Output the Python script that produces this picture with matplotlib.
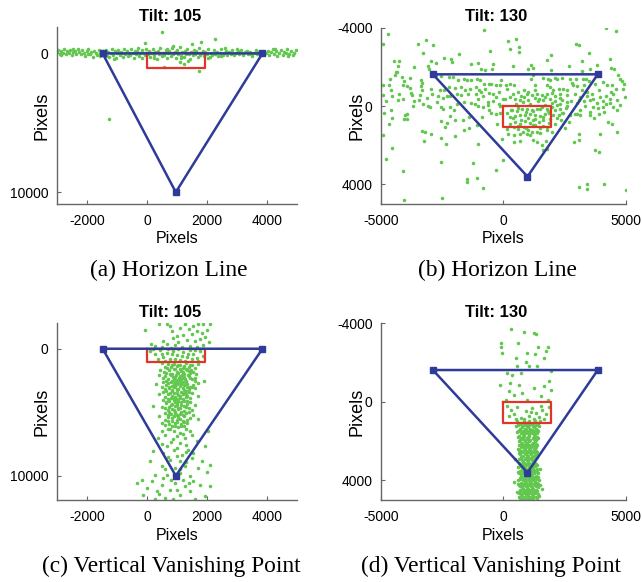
import matplotlib
matplotlib.use("Agg")
import matplotlib.pyplot as plt
import numpy as np

# ---- data (image pixels, y grows downward) ----
frame_w, frame_h = 1920, 1080

tri_105_x = [-1480, 3850, 960]
tri_105_y = [0, 0, 10000]
tri_130_x = [-2880, 3850, 980]
tri_130_y = [-1620, -1620, 3600]

# (a) horizon line, tilt 105
a_pts = [
    (-3010, -120), (-2950, -250), (-2900, 40), (-2850, -180), (-2800, -60), (-2760, -300), (-2700, 80),
    (-2650, -150), (-2600, -20), (-2560, -260), (-2500, 120), (-2450, -90), (-2400, -200), (-2350, 20),
    (-2300, -330), (-2250, -110), (-2200, 60), (-2150, -230), (-2100, -40), (-2050, 170), (-2000, -150),
    (-1950, -280), (-1900, 10), (-1850, -90), (-1800, 230), (-1750, -200), (-1700, -30), (-1650, 110),
    (-1600, -250), (-1550, -60), (-1500, 150), (-1450, -180),
    (-1400, 40), (-1380, -260), (-1330, 170), (-1300, -90), (-1250, 260), (-1200, -40), (-1180, -310),
    (-1120, 90), (-1080, -160), (-1030, 330), (-1000, -20), (-950, -220), (-900, 140), (-860, -100),
    (-800, 280), (-760, -330), (-720, 20), (-680, -170), (-640, 210), (-600, -60), (-550, 120),
    (-520, -280), (-480, -10), (-430, 350), (-400, -140), (-350, 60), (-310, -380), (-270, 190),
    (-230, -60), (-180, -230), (-150, 300), (-100, -20), (-60, 130), (-20, -300), (30, 40), (70, -150),
    (110, 250), (150, -40), (190, -350), (230, 150), (280, -90), (320, 380), (360, -200), (400, 20),
    (440, -420), (490, 220), (530, -60), (570, 120), (620, -260), (660, 300), (700, -10), (740, -150),
    (790, 200), (830, -380), (870, 60), (920, -110), (960, 330), (1000, -230), (1040, 30), (1090, -450),
    (1130, 180), (1170, -70), (1220, 260), (1260, -180), (1300, 80), (1350, -320), (1390, 10),
    (1430, 400), (1470, -120), (1520, 150), (1560, -260), (1600, 50), (1650, -80), (1690, 290),
    (1730, -400), (1780, 120), (1820, -30), (1860, -200), (1910, 200), (1950, -110), (2000, 40),
    (2050, -300), (2090, 250), (2140, -50), (2180, 110), (2230, -220), (2280, 20), (2330, -130),
    (2380, 170), (2430, -60), (2480, -280), (2530, 90), (2580, -20), (2630, -190), (2680, 140),
    (2730, -90), (2790, 40), (2840, -240), (2900, 110), (2960, -30), (3020, -150), (3080, 60),
    (3140, -260), (3200, 130), (3260, -70), (3320, -190), (3380, 30), (3440, -120), (3500, 200),
    (3560, -40), (3620, -230), (3680, 80), (3740, -110),
    (3960, -20), (4020, -200), (4080, 120), (4130, -80), (4190, -300), (4240, 40), (4300, -150),
    (4350, 180), (4410, -60), (4460, -250), (4520, 90), (4570, -120), (4630, -20), (4680, -310),
    (4740, 60), (4790, -180), (4850, 150), (4900, -60), (4950, -240),
    (490, -1560), (2270, -1070), (-70, -770), (1790, -820), (560, 960), (1240, 770), (1730, 1250),
    (-1260, 4730), (1500, -700), (1100, 600),
    (-2880, 100), (-2480, -320), (-1980, 60), (-1580, 200), (-820, -40), (-340, -200), (250, 320),
    (680, -320), (1150, 350), (1620, -180), (2020, 300), (2460, 200), (3000, -300), (3470, 60),
    (4280, -350), (4700, 200), (880, -520), (1380, 520), (2600, -420), (-1100, 380),
]

# (b) horizon line, tilt 130
b_pts = [
    (-4730, -3700), (-4920, -3170), (-800, -3900), (-3170, -3370), (-3470, -3190), (-2880, -3130),
    (-3270, -2730), (-1800, -2680), (-570, -2830), (-4460, -2280), (-4270, -2320), (-4300, -2050),
    (-3660, -2000), (-2940, -2320), (-2760, -2220), (-2420, -2450), (-2150, -2400), (-2120, -2230),
    (-1310, -2170), (-1060, -2200), (-930, -1910), (-760, -1860), (-450, -1910), (-420, -2170),
    (-4380, -1740), (-4330, -1740), (-4430, -1570), (-4140, -1490), (-3810, -1450), (-4050, -1280),
    (-4640, -1370), (-4690, -1090), (-4920, -1060), (-4110, -1060), (-3950, -1040), (-3350, -1320),
    (-3310, -1200), (-3370, -1040), (-3100, -2030), (-3050, -1890), (-2740, -1570), (-2530, -1520),
    (-2230, -1490), (-2060, -1490), (-1850, -1320), (-1610, -1370), (-1500, -1320), (-1310, -1330),
    (-1100, -1370), (-970, -1350), (-790, -1110), (-600, -1130), (-490, -1150), (-300, -1060),
    (-140, -1090), (-110, -1320), (-4580, -840), (-4900, -580), (-4560, -530), (-4260, -600),
    (-3780, -690), (-3740, -550), (-3410, -580), (-3320, -800), (-2940, -860), (-2900, -640),
    (-2590, -800), (-2410, -840), (-2230, -980), (-1990, -920), (-1740, -980), (-1550, -840),
    (-1360, -890), (-1130, -960), (-1010, -800), (-760, -890), (-600, -670), (-420, -640),
    (-290, -470), (-4790, -280), (-4100, -350), (-3670, -280), (-3440, -330), (-3140, -400),
    (-2670, -500), (-2460, -410), (-2290, -500), (-2190, -520), (-1880, -640), (-1720, -550),
    (-1440, -620), (-1140, -600), (-1020, -350), (-820, -500), (-650, -210), (-410, -280),
    (-180, -120), (-30, -380), (-3710, 10), (-3100, 10), (-3010, 30), (-2530, 40), (-2200, 60),
    (-1880, -90), (-1330, -180), (-1170, -110), (-1040, -10), (-830, 30), (-640, -40), (-140, -10),
    (-4860, 330), (-3950, 390), (-4030, 470), (-3930, 640), (-4570, 610), (-4070, 660), (-2460, 130),
    (-2180, 520), (-1990, 730), (-1670, 690), (-1400, 540), (-870, 560), (-490, 370), (-290, 400),
    (-150, 330), (-4690, 910), (-2530, 740), (-2310, 860), (-2400, 1050), (-1610, 1235),
    (-1420, 1120), (-1090, 980), (-270, 900), (-4920, 1460), (-3330, 1290), (-3200, 1350),
    (-2940, 1440), (-2540, 1640), (-3250, 1760), (-1960, 1540), (-2340, 1950), (-1040, 1950),
    (-80, 1690), (-4530, 2120), (-4790, 2680), (-2570, 2870), (-1250, 2920), (-300, 3240),
    (-30, 2770), (-4100, 3310), (-1480, 3700), (-1090, 3670), (-1470, 3900), (-820, 4160),
    (-4080, 4790), (-2520, 4700),
    (4180, -3980), (4600, -3850), (200, -3300), (500, -3440), (270, -2930), (650, -3000), (650, -2760),
    (2950, -3190), (3090, -3100), (1930, -2620), (3510, -2710), (1760, -2350), (3210, -2320),
    (4350, -2390), (380, -2050), (990, -1880), (1130, -2080), (1220, -1960), (2680, -2050),
    (1960, -1830), (3220, -1790), (3550, -1880), (3800, -2080), (4370, -1940), (4530, -1880),
    (4690, -1570), (4760, -1400), (4830, -1260), (4920, -1150), (4860, -890), (4980, -470),
    (1120, -1370), (1220, -1570), (1630, -1430), (1810, -1400), (1880, -1320), (2110, -1450),
    (2180, -1370), (2380, -1430), (2720, -1400), (2970, -1400), (3240, -1370), (3350, -1400),
    (3480, -1300), (110, -1060), (270, -1110), (440, -1090), (1290, -1060), (1770, -1090),
    (1900, -980), (2040, -800), (2250, -860), (2450, -890), (2820, -1060), (3010, -1010),
    (3200, -800), (3400, -720), (3740, -1150), (4080, -1230), (4220, -1060), (4450, -1060),
    (4600, -890), (4490, -640), (140, -890), (610, -720), (840, -800), (950, -640), (1160, -550),
    (1360, -640), (1570, -550), (1770, -600), (2110, -520), (2310, -640), (2590, -550), (2930, -640),
    (3130, -470), (3430, -520), (3670, -380), (3950, -470), (4190, -520), (4350, -380), (4630, -300),
    (4760, -40), (70, -380), (250, -470), (480, -380), (680, -300), (820, -470), (1020, -300),
    (1290, -410), (1470, -350), (1630, -300), (1900, -350), (2110, -240), (2380, -300), (2590, -210),
    (2750, -240), (3020, -180), (3270, -240), (3540, -300), (3810, -180), (4080, -240), (4330, -180),
    (4490, 40), (4630, 215), (4080, 40), (3840, 100), (3650, 40), (3330, -10), (3130, 215),
    (2910, 390), (2720, 470), (2560, 100), (2310, 130), (2180, -40), (1970, 40), (1770, 130),
    (1570, 40), (1360, 130), (1160, 215), (950, 130), (750, 160), (550, 270), (340, 215), (160, 330),
    (270, 560), (480, 500), (680, 440), (890, 470), (1090, 390), (1290, 440), (1500, 500),
    (1700, 390), (1840, 330), (2040, 470), (2250, 440), (2450, 330), (250, 900), (480, 810),
    (680, 900), (890, 780), (1090, 840), (1220, 730), (1430, 810), (1630, 730), (1840, 840),
    (140, 1150), (410, 1070), (610, 1180), (820, 1070), (1020, 1240), (1220, 980), (1500, 1120),
    (1770, 1070), (2110, 900), (2340, 730), (2690, 810), (3540, 470), (3890, 390), (3540, 300),
    (3130, 470), (2990, 390), (200, 1410), (410, 1490), (680, 1410), (950, 1410), (1160, 1350),
    (1360, 1350), (1770, 1240), (1970, 1320), (3920, 1410), (4260, 810), (4420, 900), (4650, 1320),
    (3090, 1410), (3070, 1750), (2880, 1830), (1220, 1750), (1360, 1830), (1570, 2000),
    (1730, 1800), (680, 1800), (440, 1860), (1770, 2170), (1610, 2260), (3740, 2260), (3880, 2340),
    (3430, 3960), (4110, 3970), (3100, 4130), (3430, 4240), (4990, 4300),
    (400, -600), (700, -500), (1000, -700), (1300, -800), (1700, -450), (2000, -650), (2300, -400),
    (2600, -800), (500, -100), (800, -200), (1100, -100), (1400, -250), (1700, -50), (2000, -150),
    (2300, -100), (2600, 0), (300, 200), (600, 100), (900, 300), (1200, 250), (1500, 150), (1800, 250),
    (2100, 200), (2400, 350), (400, 600), (700, 700), (1000, 600), (1300, 650), (1600, 550),
    (1900, 650), (2200, 600), (600, 1000), (900, 1100), (1300, 950), (1600, 1000), (800, 1300),
    (1100, 1500), (1500, 1400), (2500, 1100), (2800, -1200), (3300, -1100), (3600, -600),
    (3100, -300), (3900, -800), (4200, -100), (4400, -700), (3700, 600), (4100, 300), (-200, -700),
    (-600, 200), (-900, -700), (-1600, -200), (-2000, 200), (-2700, -200), (-3300, -100),
    (-3800, -900), (-4300, -300), (-4600, 200),
]

# (c) vertical vanishing point, tilt 105
c_pts = [
    (-67, -1444), (411, -1969), (677, -1969), (822, -1391), (766, -1785), (1100, -1654), (1266, -1916),
    (1411, -1522), (1544, -1785), (1711, -1969), (1877, -1916), (2099, -1916), (1655, -1391),
    (1822, -1260), (1988, -1444), (1488, -1129), (1211, -1076), (989, -997), (855, -814), (544, -604),
    (122, -394), (655, -341), (1044, -551), (1322, -656), (1599, -604), (1766, -735), (1933, -919),
    (2077, -551), (1433, -210), (1155, -131), (933, -289), (788, -79), (1655, -131), (1877, -289),
    (488, -131), (266, -210),
    (100, 184), (266, 447), (433, 132), (544, 657), (655, 315), (766, 840), (877, 184), (989, 499),
    (1100, 919), (1211, 289), (1322, 657), (1433, 79), (1544, 447), (1655, 762), (1766, 184),
    (1855, 578), (377, 840), (600, 972), (1044, 53), (1266, 972), (1488, 840), (1599, 132), (822, 394),
    (1155, 578), (1711, 972), (211, 53), (711, 53), (1377, 394), (933, 840), (488, 447),
    (500, 1150), (700, 1200), (900, 1180), (1100, 1250), (1300, 1150), (1500, 1300), (1700, 1220),
    (600, 1400), (800, 1450), (1000, 1380), (1200, 1500), (1400, 1420), (1600, 1550), (450, 1650),
    (750, 1700), (950, 1620), (1150, 1750), (1350, 1680), (1550, 1800), (650, 1900), (850, 1950),
    (1050, 1880), (1250, 1980), (1450, 1920), (1650, 2000), (400, 2100), (600, 2150), (800, 2080),
    (950, 2200), (1100, 2120), (1250, 2250), (1400, 2180), (1600, 2300), (700, 2400), (900, 2350),
    (1000, 2450), (1150, 2380), (1300, 2500), (1500, 2420), (550, 2600), (800, 2650), (950, 2580),
    (1050, 2700), (1200, 2620), (1350, 2750), (1700, 2680), (650, 2850), (850, 2900), (1000, 2800),
    (1100, 2950), (1250, 2880), (1450, 2980), (300, 2750), (1900, 2500), (500, 3050), (750, 3100),
    (900, 3020), (1050, 3150), (1200, 3080), (1400, 3200), (1600, 3120), (650, 3300), (850, 3350),
    (1000, 3280), (1150, 3400), (1300, 3320), (1500, 3450), (400, 3550), (700, 3600), (900, 3520),
    (1050, 3650), (1200, 3580), (1350, 3700), (600, 3800), (800, 3850), (950, 3780), (1100, 3900),
    (1300, 3820), (1700, 3750), (1000, 3950), (550, 4050), (750, 4100), (900, 4020), (1050, 4150),
    (1250, 4080), (1450, 4200), (650, 4300), (850, 4350), (1000, 4280), (1150, 4400), (1350, 4320),
    (1600, 4450), (200, 4500), (500, 4550), (750, 4600), (950, 4520), (1100, 4650), (1300, 4580),
    (700, 4800), (900, 4850), (1050, 4780), (1250, 4900), (1500, 4820), (600, 5050), (800, 5100),
    (950, 5020), (1100, 5150), (1300, 5080), (1550, 5200), (400, 5300), (700, 5350), (900, 5280),
    (1050, 5400), (1250, 5330), (1450, 5450), (600, 5600), (850, 5650), (1000, 5580), (1200, 5700),
    (1700, 5550), (500, 5850), (750, 5900), (950, 5820), (1150, 5950), (1350, 5880), (850, 6100),
    (1050, 6150), (1250, 6050),
    (820, 1300), (1020, 1280), (1220, 1350), (1420, 1250), (680, 1550), (900, 1580), (1100, 1620),
    (1300, 1570), (1480, 1650), (560, 1800), (1000, 1820), (1200, 1860), (1400, 1780), (760, 2010),
    (960, 2060), (1160, 2030), (1360, 2080), (520, 2300), (860, 2250), (1060, 2320), (1200, 2280),
    (1450, 2330), (620, 2500), (840, 2520), (1100, 2550), (1260, 2400), (1600, 2560), (700, 2720),
    (900, 2760), (1150, 2800), (1300, 2650), (1550, 2850), (750, 2980), (950, 2920), (1350, 3050),
    (1500, 3000), (600, 3180), (820, 3220), (1000, 3150), (1250, 3250), (550, 3420), (780, 3450),
    (1000, 3480), (1250, 3500), (1400, 3380), (850, 3680), (1100, 3720), (1300, 3600), (700, 3920),
    (900, 3980), (1200, 3950), (1450, 3880), (650, 4180), (950, 4200), (1150, 4220), (1350, 4150),
    (800, 4450), (1000, 4420), (1250, 4480), (600, 4700), (850, 4720), (1050, 4650), (1400, 4700),
    (750, 4950), (950, 4980), (1150, 5000), (1400, 4950), (700, 5200), (1000, 5230), (1200, 5250),
    (850, 5480), (1100, 5520), (1350, 5600), (700, 5720), (1000, 5750), (1250, 5800), (600, 6000),
    (950, 6050), (1150, 6100), (700, 6300), (1300, 6300), (900, 6500), (1200, 6700), (600, 6800),
    (1000, 6900), (1500, 6800), (800, 7300), (1100, 7400), (1300, 7600), (500, 7500), (900, 8000),
    (1300, 8100), (700, 8500), (1000, 8400), (1300, 8900), (600, 9500), (1100, 9500), (800, 10300),
    (1400, 10600), (1000, 11100), (400, 11400),
    (488, 6484), (766, 6353), (1100, 6615), (1433, 6484), (2044, 6484), (377, 7009), (877, 7140),
    (1266, 7009), (1655, 7272), (655, 7665), (989, 7797), (1377, 7928), (1933, 7665), (211, 8059),
    (544, 8190), (1155, 8322), (1544, 8190), (766, 8715), (1100, 8847), (1488, 8584), (1822, 8847),
    (100, 8847), (488, 9240), (933, 9372), (1266, 9240), (1711, 9372), (2099, 9109), (655, 9897),
    (1100, 9765), (1433, 10028), (266, 9897), (1988, 9687),
    (-345, 10553), (-178, 10290), (-11, 10946), (155, 10421), (322, 11209), (488, 10684),
    (600, 11734), (766, 11078), (933, 10553), (1100, 11471), (1266, 10815), (1433, 11209),
    (1599, 11820), (1766, 10684), (1933, 11603), (544, 10159), (1211, 10290), (877, 11820),
    (266, 11820), (1544, 10421), (2099, 10815), (-123, 11471),
]

# (d) vertical vanishing point, tilt 130
d_pts = [
    (298, -3694), (843, -3576), (1251, -3526), (1319, -3458), (-110, -3019), (611, -3019), (-96, -2817),
    (1428, -2817), (1823, -2783), (-69, -2479), (952, -2479), (1292, -2445), (1728, -2614),
    (530, -2226), (911, -2006), (1659, -2226), (571, -1804), (1047, -1804), (1387, -1838),
    (162, -1466), (339, -1382), (707, -1466), (1932, -1551), (258, -960), (-151, -876), (230, -538),
    (639, -876), (775, -453), (1251, -707), (1659, -791), (1864, -1044), (1932, -622), (94, -116),
    (979, -116), (435, -369), (1523, -285), (1837, -116),
    (162, 188), (298, 391), (435, 644), (571, 256), (707, 813), (911, 475), (1047, 728), (1183, 306),
    (1319, 560), (1455, 762), (1591, 391), (1728, 644), (1864, 256), (503, 897), (843, 863),
    (1251, 897), (1659, 897), (230, 728), (1115, 526), (1523, 222),
    (560, 1000), (820, 1000), (1050, 1000), (1300, 1000), (1480, 1000), (650, 1120), (900, 1120),
    (1150, 1120), (1400, 1120), (520, 1240), (760, 1240), (980, 1240), (1220, 1240), (1450, 1240),
    (680, 1360), (880, 1360), (1100, 1360), (1330, 1360), (600, 1480), (800, 1480), (1020, 1480),
    (1250, 1480), (1420, 1480), (700, 1600), (930, 1600), (1160, 1600), (1380, 1600), (640, 1720),
    (850, 1720), (1060, 1720), (1290, 1720), (720, 1840), (960, 1840), (1200, 1840), (1400, 1840),
    (660, 1960), (880, 1960), (1100, 1960), (1320, 1960), (740, 2080), (980, 2080), (1220, 2080),
    (620, 2200), (830, 2200), (1040, 2200), (1260, 2200), (1380, 2200), (700, 2320), (920, 2320),
    (1140, 2320), (1330, 2320), (650, 2440), (870, 2440), (1080, 2440), (1290, 2440), (760, 2560),
    (990, 2560), (1200, 2560), (1380, 2560), (680, 2680), (900, 2680), (1120, 2680), (1310, 2680),
    (720, 2800), (950, 2800), (1170, 2800), (1350, 2800), (640, 2920), (860, 2920), (1060, 2920),
    (1280, 2920), (780, 3040), (1000, 3040), (1220, 3040), (700, 3160), (910, 3160), (1130, 3160),
    (1330, 3160), (660, 3280), (880, 3280), (1080, 3280), (1270, 3280), (740, 3400), (960, 3400),
    (1180, 3400), (1360, 3400), (690, 3520), (900, 3520), (1110, 3520), (1300, 3520), (620, 3640),
    (830, 3640), (1050, 3640), (1260, 3640), (1420, 3640), (720, 3760), (940, 3760), (1150, 3760),
    (1340, 3760), (660, 3880), (870, 3880), (1090, 3880), (1300, 3880), (580, 4000), (780, 4000),
    (1000, 4000), (1220, 4000), (1440, 4000), (700, 4120), (920, 4120), (1140, 4120), (1350, 4120),
    (620, 4240), (850, 4240), (1060, 4240), (1280, 4240), (1500, 4240), (740, 4360), (960, 4360),
    (1180, 4360), (1390, 4360), (660, 4480), (890, 4480), (1100, 4480), (1320, 4480), (560, 4600),
    (800, 4600), (1020, 4600), (1250, 4600), (700, 4720), (940, 4720), (1160, 4720), (1400, 4720),
    (640, 4840), (870, 4840), (1090, 4840), (1310, 4840), (760, 4950), (990, 4950), (1210, 4950),
    (1560, 4430), (420, 4100), (1500, 3400), (470, 2900),
    (700, 1060), (960, 1060), (1220, 1060), (580, 1180), (820, 1180), (1060, 1180), (1320, 1180),
    (740, 1300), (990, 1300), (1240, 1300), (660, 1420), (910, 1420), (1150, 1420), (1380, 1420),
    (560, 1540), (830, 1540), (1080, 1540), (1300, 1540), (780, 1660), (1030, 1660), (1260, 1660),
    (600, 1780), (790, 1780), (1000, 1780), (1230, 1780), (1350, 1780), (780, 1900), (1000, 1900),
    (1240, 1900), (630, 2020), (860, 2020), (1060, 2020), (1300, 2020), (720, 2140), (930, 2140),
    (1150, 2140), (1340, 2140), (790, 2260), (1000, 2260), (1200, 2260), (600, 2380), (820, 2380),
    (1040, 2380), (1250, 2380), (710, 2500), (930, 2500), (1140, 2500), (1330, 2500), (640, 2620),
    (860, 2620), (1080, 2620), (1270, 2620), (780, 2740), (1010, 2740), (1230, 2740), (710, 2860),
    (930, 2860), (1140, 2860), (1320, 2860), (760, 2980), (980, 2980), (1180, 2980), (620, 3100),
    (830, 3100), (1060, 3100), (1270, 3100), (770, 3220), (990, 3220), (1200, 3220), (1380, 3220),
    (610, 3340), (820, 3340), (1030, 3340), (1220, 3340), (800, 3460), (1020, 3460), (1240, 3460),
    (600, 3580), (790, 3580), (1000, 3580), (1210, 3580), (1370, 3580), (700, 3700), (910, 3700),
    (1120, 3700), (770, 3820), (990, 3820), (1200, 3820), (1400, 3820), (680, 3940), (880, 3940),
    (1120, 3940), (1330, 3940), (860, 4060), (1080, 4060), (1290, 4060), (580, 4180), (800, 4180),
    (1010, 4180), (1240, 4180), (1420, 4180), (690, 4300), (900, 4300), (1110, 4300), (1330, 4300),
    (780, 4420), (1000, 4420), (1220, 4420), (680, 4540), (920, 4540), (1140, 4540), (1360, 4540),
    (620, 4660), (850, 4660), (1060, 4660), (1290, 4660), (760, 4780), (1000, 4780), (1220, 4780),
    (1440, 4780), (680, 4900), (890, 4900), (1120, 4900), (1350, 4900),
]

panels = [
    ("Tilt: 105", a_pts, tri_105_x, tri_105_y, (-3000, 5000), (10850, -1900), [-2000, 0, 2000, 4000], [0, 10000], "(a) Horizon Line"),
    ("Tilt: 130", b_pts, tri_130_x, tri_130_y, (-5000, 5000), (5000, -4000), [-5000, 0, 5000], [-4000, 0, 4000], "(b) Horizon Line"),
    ("Tilt: 105", c_pts, tri_105_x, tri_105_y, (-3000, 5000), (11900, -2000), [-2000, 0, 2000, 4000], [0, 10000], "(c) Vertical Vanishing Point"),
    ("Tilt: 130", d_pts, tri_130_x, tri_130_y, (-5000, 5000), (5000, -4000), [-5000, 0, 5000], [-4000, 0, 4000], "(d) Vertical Vanishing Point"),
]

# layout of the four axes [left, bottom, width, height]
boxes = [
    [0.0886, 0.6495, 0.3733, 0.3041],
    [0.5925, 0.6495, 0.3810, 0.3029],
    [0.0886, 0.1409, 0.3733, 0.3036],
    [0.5925, 0.1409, 0.3810, 0.3036],
]
caption_xy = [(0.263, 0.526), (0.773, 0.526), (0.266, 0.017), (0.764, 0.017)]
ylab_x = [-0.029, -0.065, -0.029, -0.065]
xlab_y = [-0.153, -0.153, -0.158, -0.158]

GREEN = "#62C74F"
BLUE = "#2E3B98"
RED = "#E2352A"

plt.rcParams["font.family"] = ["Liberation Sans", "DejaVu Sans"]
plt.rcParams["axes.unicode_minus"] = False

fig = plt.figure(figsize=(6.43, 5.82), dpi=100)

for i in range(4):
    title, pts, tx, ty, xl, yl, xt, yt, cap = panels[i]
    ax = fig.add_axes(boxes[i])
    pts = np.array(pts)
    ax.scatter(pts[:, 0], pts[:, 1], s=6.5, color=GREEN, linewidths=0, zorder=2)
    ax.plot([0, frame_w, frame_w, 0, 0], [0, 0, frame_h, frame_h, 0], color=RED, lw=1.6, zorder=3)
    ax.plot(tx + [tx[0]], ty + [ty[0]], color=BLUE, lw=1.8, zorder=4)
    ax.plot(tx, ty, "s", color=BLUE, ms=4.5, zorder=5)

    ax.set_xlim(xl)
    ax.set_ylim(yl)
    ax.set_xticks(xt)
    ax.set_yticks(yt)
    ax.tick_params(direction="in", length=3, width=0.8, color="0.4", labelsize=10, pad=6)
    ax.tick_params(axis="x", pad=7.5)
    for s in ["top", "right"]:
        ax.spines[s].set_visible(False)
    for s in ["left", "bottom"]:
        ax.spines[s].set_color("0.4")
        ax.spines[s].set_linewidth(1.0)

    ax.set_title(title, fontsize=12, fontweight="bold", x=0.47, pad=4.6)
    ax.set_xlabel("Pixels", fontsize=11.5)
    ax.set_ylabel("Pixels", fontsize=13)
    ax.yaxis.set_label_coords(ylab_x[i], 0.5)
    ax.xaxis.set_label_coords(0.5, xlab_y[i])

    fig.text(caption_xy[i][0], caption_xy[i][1], cap, ha="center", va="baseline",
             fontsize=16.8, family=["Liberation Serif", "DejaVu Serif"])

fig.savefig("out.png", dpi=100)
